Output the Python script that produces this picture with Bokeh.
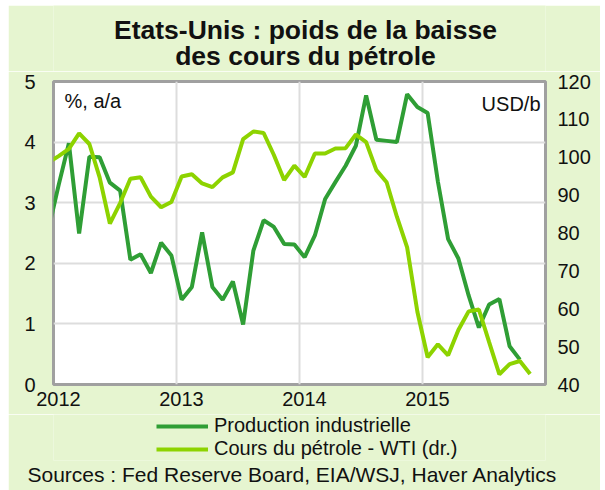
from bokeh.plotting import figure
from bokeh.layouts import column
from bokeh.models import (Range1d, LinearAxis, FixedTicker, Label, Legend, LegendItem,
                          NumeralTickFormatter, Title)
from bokeh.embed import file_html
from bokeh.resources import INLINE

# ---- data (monthly, Dec 2011 .. Nov 2015) ----
months = [(2011, 12)] + [(y, m) for y in range(2012, 2016) for m in range(1, 13)][:47]

production = [2.55,
              3.29, 3.98, 2.49, 3.76, 3.75, 3.33, 3.20, 2.06, 2.15, 1.84, 2.34, 2.13,
              1.40, 1.61, 2.51, 1.61, 1.40, 1.70, 0.99, 2.21, 2.71, 2.60, 2.32, 2.31,
              2.10, 2.46, 3.06, 3.34, 3.61, 3.94, 4.77, 4.04, 4.02, 4.00, 4.79, 4.58,
              4.48, 3.35, 2.40, 2.08, 1.47, 0.94, 1.32, 1.41, 0.63, 0.41]

wti = [98.6,
       100.3, 102.2, 106.3, 103.5, 94.7, 82.5, 87.9, 94.3, 94.7, 89.6, 86.8, 88.2,
       94.9, 95.5, 93.1, 92.1, 94.7, 96.0, 104.8, 106.8, 106.4, 100.6, 94.0, 97.8,
       94.8, 101.0, 101.0, 102.3, 102.4, 106.0, 104.0, 96.6, 93.4, 84.3, 76.2, 59.2,
       47.2, 50.6, 47.7, 54.4, 59.3, 59.8, 51.2, 42.7, 45.4, 46.2, 42.8]

year_ticks = [2012, 2013, 2014, 2015]
left_ticks = [0, 1, 2, 3, 4, 5]
right_ticks = [40, 50, 60, 70, 80, 90, 100, 110, 120]

x_all = [y + (m - 1 + 0.5) / 12 for (y, m) in months]
x_prod = x_all[:len(production)]

BG = "#E6F5D0"
DARK = "#2F9E35"
LIGHT = "#8DD300"
GRID = "#DDDDDD"
FONT = "Liberation Sans"
TXT = "#111111"
W = 592


def lab(fig, text, x, y, align="left", size="20px", bold=False):
    fig.add_layout(Label(x=x, y=y, x_units="screen", y_units="screen", text=text,
                         text_font=FONT, text_font_size=size, text_align=align,
                         text_baseline="middle", text_color=TXT,
                         text_font_style="bold" if bold else "normal"))


def strip(height, top=0, bottom=0):
    f = figure(width=W, height=height, output_backend="svg", toolbar_location=None,
               title=None, x_range=Range1d(0, 1), y_range=Range1d(0, 1),
               x_axis_location=None, y_axis_location=None,
               min_border_left=45, min_border_right=55, min_border_top=top,
               min_border_bottom=bottom,
               background_fill_color=BG, border_fill_color=BG, outline_line_color=None)
    f.grid.visible = False
    return f


# ---- title strip ----
p0 = strip(66)
lab(p0, "Etats-Unis : poids de la baisse", 252, 42, "center", "26.5px", True)
lab(p0, "des cours du pétrole", 252, 15.5, "center", "26.5px", True)

# ---- main chart ----
p = figure(width=W, height=343, output_backend="svg", toolbar_location=None,
           title=None,
           x_range=Range1d(2012, 2016), y_range=Range1d(0, 5),
           min_border_left=45, min_border_right=55, min_border_top=10, min_border_bottom=30,
           background_fill_color="white", border_fill_color=BG,
           outline_line_color="#A0A0A0", outline_line_width=3)

p.extra_y_ranges = {"wti": Range1d(40, 120)}

p.xaxis.ticker = FixedTicker(ticks=[t + 0.04 for t in year_ticks])
p.xaxis.formatter = NumeralTickFormatter(format="0")
p.yaxis.ticker = FixedTicker(ticks=left_ticks)
right = LinearAxis(y_range_name="wti", ticker=FixedTicker(ticks=right_ticks))
p.add_layout(right, "right")

for ax in [p.xaxis[0], p.yaxis[0], right]:
    ax.axis_line_color = None
    ax.major_tick_line_color = None
    ax.minor_tick_line_color = None
    ax.major_tick_out = 0
    ax.major_tick_in = 0
    ax.minor_tick_out = 0
    ax.minor_tick_in = 0
    ax.major_label_text_font = FONT
    ax.major_label_text_font_size = "20px"
    ax.major_label_text_color = TXT
p.xaxis.major_label_standoff = 7
p.yaxis[0].major_label_standoff = 18
right.major_label_standoff = 12

p.xgrid.ticker = FixedTicker(ticks=[2013, 2014, 2015])
p.ygrid.ticker = FixedTicker(ticks=[1, 2, 3, 4])
p.xgrid.grid_line_color = GRID
p.ygrid.grid_line_color = GRID
p.xgrid.grid_line_width = 2
p.ygrid.grid_line_width = 2

r1 = p.line(x_prod, production, color=DARK, line_width=4)
r2 = p.line(x_all, wti, y_range_name="wti", color=LIGHT, line_width=4)

lab(p, "%, a/a", 11, 284)
lab(p, "USD/b", 487, 281, align="right")

# ---- lower strip: legend + sources ----
p2 = strip(76, top=0, bottom=30)
# legend keys: same series, drawn outside this strip's visible range
k1 = p2.line(x_prod, production, color=DARK, line_width=4)
k2 = p2.line(x_all, wti, color=LIGHT, line_width=4)

legend = Legend(items=[LegendItem(label="Production industrielle", renderers=[k1]),
                       LegendItem(label="Cours du pétrole - WTI (dr.)", renderers=[k2])],
                location=(103, 0), background_fill_alpha=0, border_line_color=None,
                padding=0, margin=0, spacing=0, glyph_width=52, glyph_height=22,
                label_height=22, label_standoff=6,
                label_text_font=FONT, label_text_font_size="20px", label_text_color=TXT)
p2.add_layout(legend)
p2.add_layout(Title(text="Sources : Fed Reserve Board, EIA/WSJ, Haver Analytics",
                    align="left", offset=-26, standoff=0,
                    text_font=FONT, text_font_size="21px", text_font_style="normal",
                    text_color=TXT), "below")

layout = column(p0, p, p2, spacing=0, margin=(5, 5, 0, 8))

open("out.html", "w").write(file_html(layout, INLINE))
